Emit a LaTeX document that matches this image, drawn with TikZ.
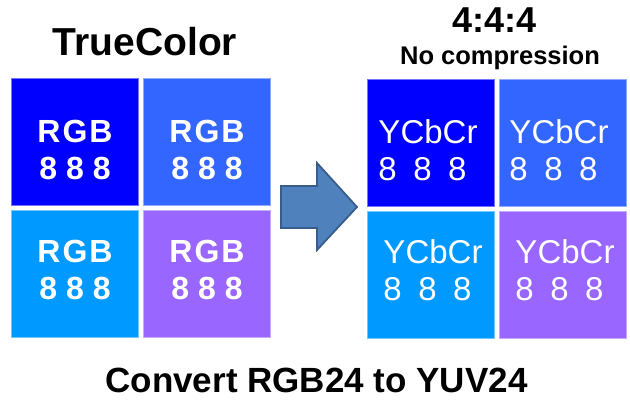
\documentclass[tikz,border=0pt]{standalone}
\usepackage{fontspec}
\setmainfont{Liberation Sans}
\definecolor{pureblue}{HTML}{0000FF}
\definecolor{midblue}{HTML}{3366FF}
\definecolor{skyblue}{HTML}{0099FF}
\definecolor{lilac}{HTML}{9966FF}
\definecolor{arrowfill}{HTML}{4F81BD}
\definecolor{arrowline}{HTML}{385D8A}
\tikzset{
  cell/.style={fill=#1, draw=#1!55!white, line width=0.6pt,
    minimum width=127pt, minimum height=127pt, inner sep=0pt},
  rgbtext/.style={text=white, align=center,
    font=\fontsize{32}{37}\selectfont\bfseries},
  yuvtext/.style={text=white, align=left,
    font=\fontsize{33}{37}\selectfont},
  title/.style={anchor=base, inner sep=0pt, font=\bfseries\fontsize{#1}{#1}\selectfont},
  blockarrow/.style={fill=arrowfill, draw=arrowline, line width=1.8pt, line join=miter}
}
\begin{document}
\begin{tikzpicture}[x=1pt,y=-1pt]
  \useasboundingbox (0,0) rectangle (630,414);
  \node[title=39] (truecolor) at (145,56) {TrueColor};
  \node[title=36] (ratio) at (494.5,33) {4:4:4};
  \node[title=25.5] (nocomp) at (500,65) {No compression};
  \begin{scope}
    \node[cell=pureblue] (rgbA) at (74.5,141.5) {};
    \node[cell=midblue] (rgbB) at (206.5,141.5) {};
    \node[cell=skyblue] (rgbC) at (74.5,274) {};
    \node[cell=lilac] (rgbD) at (206.5,274) {};
    \node[rgbtext] (rgbAtext) at (75,150) {R\kern2pt G\kern2pt B\\8 8 8};
    \node[rgbtext] (rgbBtext) at (207,150) {R\kern2pt G\kern2pt B\\8 8 8};
    \node[rgbtext] (rgbCtext) at (75,270) {R\kern2pt G\kern2pt B\\8 8 8};
    \node[rgbtext] (rgbDtext) at (207,270) {R\kern2pt G\kern2pt B\\8 8 8};
  \end{scope}
  \draw[blockarrow] (281,186) -- (317,186) -- (317,163) -- (357,207)
        -- (317,250) -- (317,228) -- (281,228) -- cycle;
  \begin{scope}
    \node[cell=pureblue] (yuvA) at (430.5,142.5) {};
    \node[cell=midblue] (yuvB) at (563,142.5) {};
    \node[cell=skyblue] (yuvC) at (430.5,275) {};
    \node[cell=lilac] (yuvD) at (563,275) {};
    \node[yuvtext] (yuvAtext) at (428,150) {YCbCr\\8\enspace8\enspace8};
    \node[yuvtext] (yuvBtext) at (559,150) {YCbCr\\8\enspace8\enspace8};
    \node[yuvtext] (yuvCtext) at (433,270) {YCbCr\\8\enspace8\enspace8};
    \node[yuvtext] (yuvDtext) at (565,270) {YCbCr\\8\enspace8\enspace8};
  \end{scope}
  \node[title=35] (convert) at (316.5,392) {Convert RGB24 to YUV24};
\end{tikzpicture}
\end{document}
